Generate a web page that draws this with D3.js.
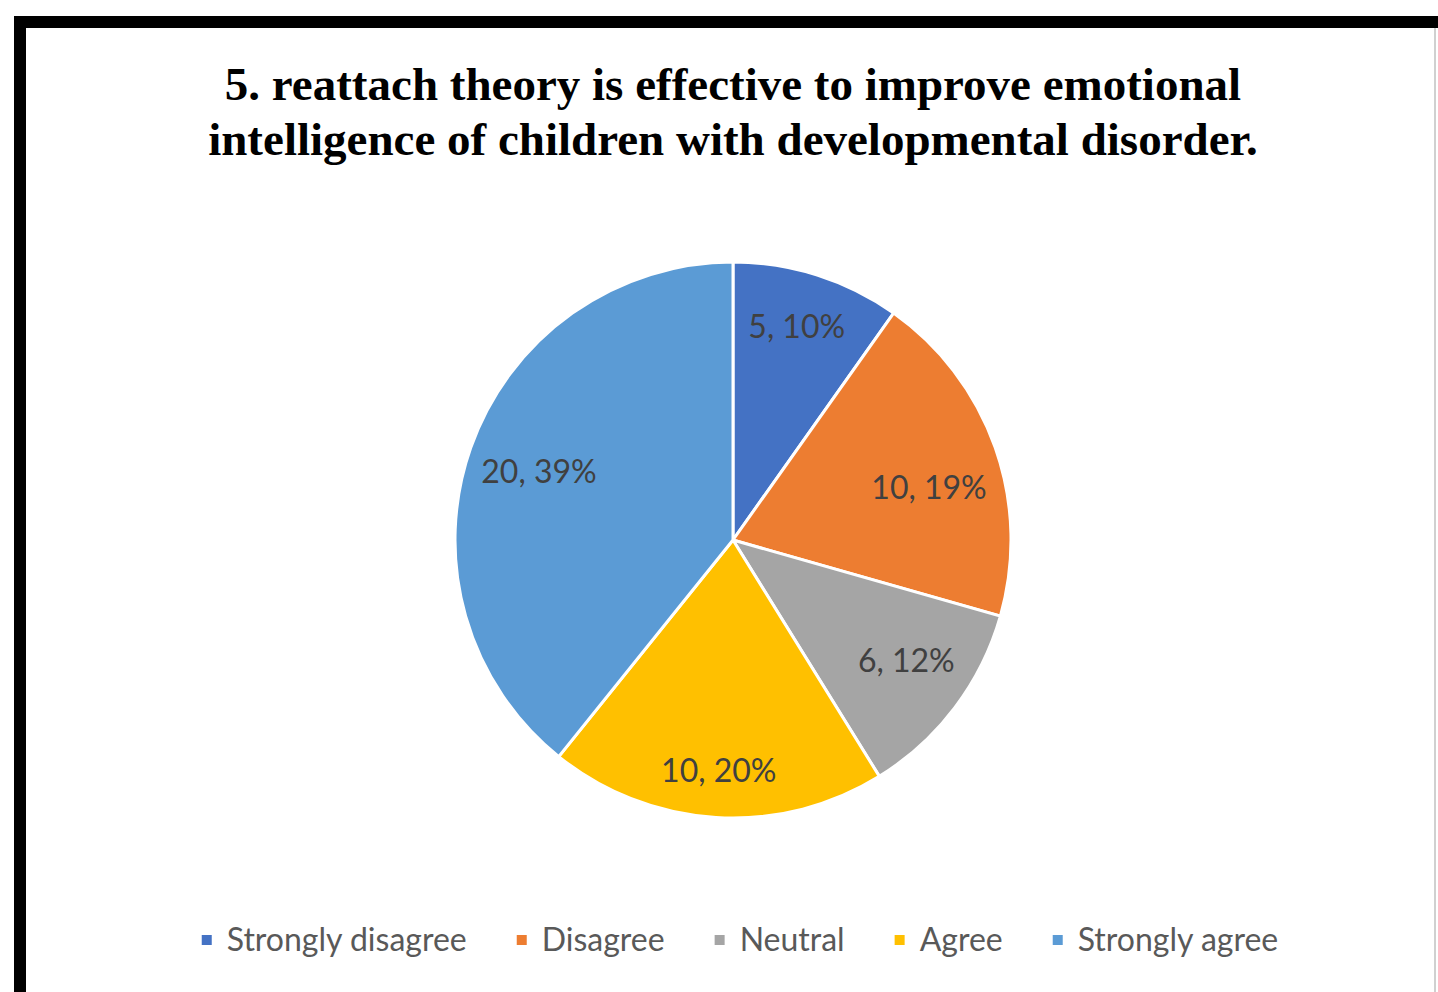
<!DOCTYPE html>
<meta charset="utf-8">
<html>
  <head>
    <script src="https://d3js.org/d3.v7.min.js"></script>
    <style>
      body { margin: 0; background: #fff; }
    </style>
  </head>
  <body>
  <script>

const categories = ['Strongly disagree', 'Disagree', 'Neutral', 'Agree', 'Strongly agree'],
      counts = [5, 10, 6, 10, 20],
      pct_labels = ['10%', '19%', '12%', '20%', '39%'],   // as printed on the chart
      colours = ['#4472C4', '#ED7D31', '#A5A5A5', '#FFC000', '#5B9BD5'],
      title_lines = ['5. reattach theory is effective to improve emotional',
                     'intelligence of children with developmental disorder.'];

// label placement tweaks (radius as share of pie radius, angle shift in degrees)
const label_r = [0.80, 0.73, 0.76, 0.83, 0.74],
      label_shift = [-1, 4.4, -2.2, 0, 0];

const width = 1438, height = 992,
      cx = 733, cy = 540, radius = 278;

const svg = d3.select('body').append('svg')
  .attr('width', width)
  .attr('height', height);

// frame
svg.append('rect')
  .attr('x', 20).attr('y', 22)
  .attr('width', 1440).attr('height', 1000)
  .attr('fill', '#fff')
  .attr('stroke', '#000')
  .attr('stroke-width', 12);

svg.append('line')
  .attr('x1', 1435).attr('x2', 1435)
  .attr('y1', 28).attr('y2', height)
  .attr('stroke', '#d0d0d0')
  .attr('stroke-width', 2);

// title
svg.append('text')
  .attr('x', 733)
  .attr('text-anchor', 'middle')
  .style('font-family', '"Liberation Serif", "Times New Roman", serif')
  .style('font-weight', 'bold')
  .style('font-size', '47px')
  .style('fill', '#000')
  .selectAll('tspan')
  .data(title_lines)
  .join('tspan')
    .attr('x', 733)
    .attr('y', (d, i) => 100 + i * 55)
    .text(d => d);

// pie
const data = categories.map((c, i) => ({ name: c, value: counts[i], pct: pct_labels[i], colour: colours[i] }));

const pie = d3.pie().sort(null).value(d => d.value),
      arc = d3.arc().innerRadius(0).outerRadius(radius);

const g = svg.append('g').attr('transform', `translate(${cx},${cy})`);
const arcs = pie(data);

g.selectAll('path')
  .data(arcs)
  .join('path')
    .attr('d', arc)
    .attr('fill', d => d.data.colour)
    .attr('stroke', '#fff')
    .attr('stroke-width', 3);

const label_pos = (d, i) => {
  const a = (d.startAngle + d.endAngle) / 2 + label_shift[i] * Math.PI / 180,
        r = radius * label_r[i];
  return [r * Math.sin(a), -r * Math.cos(a)];
};

g.selectAll('text')
  .data(arcs)
  .join('text')
    .attr('transform', (d, i) => `translate(${label_pos(d, i)})`)
    .attr('text-anchor', 'middle')
    .attr('dy', '0.35em')
    .style('font-family', 'Lato, sans-serif')
    .style('font-size', '32px')
    .style('fill', '#404040')
    .text(d => `${d.data.value}, ${d.data.pct}`);

// legend
const legend = svg.append('g').attr('transform', 'translate(0,940)');
const items = legend.selectAll('g')
  .data(data)
  .join('g');

items.append('rect')
  .attr('width', 10).attr('height', 10)
  .attr('y', -5)
  .attr('fill', d => d.colour);

items.append('text')
  .attr('x', 25)
  .attr('dy', '0.35em')
  .style('font-family', 'Lato, sans-serif')
  .style('font-size', '32px')
  .style('fill', '#595959')
  .text(d => d.name);

const gap = 50;
let x = 0;
const offsets = [];
items.each(function () {
  offsets.push(x);
  x += 25 + this.querySelector('text').getComputedTextLength() + gap;
});
const total = x - gap,
      start = 740 - total / 2;
items.attr('transform', (d, i) => `translate(${start + offsets[i]},0)`);

  </script>
  </body>
</html>
